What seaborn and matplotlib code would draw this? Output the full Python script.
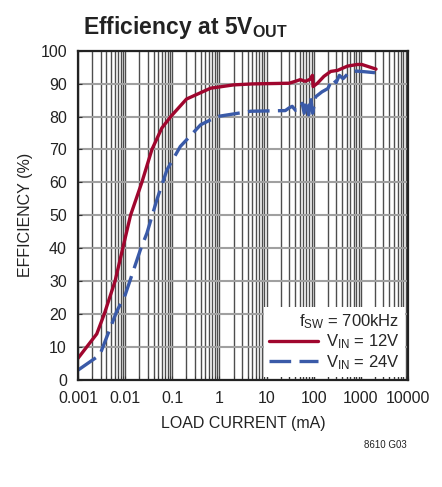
import numpy as np
import pandas as pd
import matplotlib
matplotlib.use("Agg")
import matplotlib.pyplot as plt
import seaborn as sns
from matplotlib.ticker import FixedLocator, LogLocator, NullFormatter, FixedFormatter

# load current (mA) and efficiency (%)
i_12v = [0.001, 0.0025, 0.0036, 0.0061, 0.0089, 0.013, 0.0226, 0.037, 0.06, 0.093,
         0.2, 0.65, 2.0, 5.0, 27, 30, 41, 52, 66, 84, 94, 97, 120, 165, 230, 320,
         520, 840, 1050, 2100]
eff_12v = [6.6, 14.0, 20.0, 30.0, 40.0, 50.0, 60.0, 70.0, 76.5, 80.0,
           85.3, 88.6, 89.6, 89.9, 90.1, 90.1, 90.7, 91.2, 90.7, 91.3, 92.5, 89.1, 90.1, 92.2, 93.7, 94.0,
           95.3, 95.8, 95.8, 94.4]

i_24v = [0.001, 0.0029, 0.0066, 0.01, 0.021, 0.029, 0.047, 0.077, 0.148, 0.40,
         0.9, 4.6, 25, 30, 35, 41, 50, 57, 63, 70, 78, 86, 95,
         110, 150, 200, 250, 300, 350, 420, 550, 800, 1200, 2000]
eff_24v = [3.0, 7.6, 20.8, 25.8, 39.5, 44.6, 54.7, 63.8, 70.9, 77.5,
           80.0, 81.6, 81.8, 82.6, 83.1, 81.9, 82.0, 84.0, 81.0, 85.0, 80.5, 86.0, 81.0,
           86.0, 87.5, 88.5, 91.5, 90.3, 92.5, 91.5, 93.2, 93.8, 93.6, 93.3]

series = ["$\\mathregular{V_{IN}}$ = 12V", "$\\mathregular{V_{IN}}$ = 24V"]
x_ticks = [0.001, 0.01, 0.1, 1, 10, 100, 1000, 10000]
x_labels = ["0.001", "0.01", "0.1", "1", "10", "100", "1000", "10000"]
y_ticks = list(range(0, 101, 10))

df = pd.concat([
    pd.DataFrame({"current": i_12v, "eff": eff_12v, "vin": series[0]}),
    pd.DataFrame({"current": i_24v, "eff": eff_24v, "vin": series[1]}),
])

sns.set_style("ticks")
plt.rcParams["font.family"] = ["Liberation Sans", "DejaVu Sans"]
plt.rcParams["mathtext.fontset"] = "custom"
plt.rcParams["mathtext.rm"] = "Liberation Sans"
plt.rcParams["mathtext.it"] = "Liberation Sans:italic"
plt.rcParams["mathtext.bf"] = "Liberation Sans:bold"

fig = plt.figure(figsize=(4.42, 4.87), dpi=100)
ax = fig.add_axes([0.1765, 0.2197, 0.7465, 0.6763])

sns.lineplot(data=df, x="current", y="eff", hue="vin", style="vin",
             palette={series[0]: "#a0062e", series[1]: "#3a5aa8"},
             dashes={series[0]: "", series[1]: (6.5, 2.5)},
             linewidth=2.4, sort=False, ax=ax)

ax.set_xscale("log")
ax.set_xlim(0.001, 10000)
ax.set_ylim(0, 100)
ax.xaxis.set_major_locator(FixedLocator(x_ticks))
ax.xaxis.set_major_formatter(FixedFormatter(x_labels))
ax.xaxis.set_minor_locator(LogLocator(base=10, subs=np.arange(2, 10), numticks=20))
ax.xaxis.set_minor_formatter(NullFormatter())
ax.set_yticks(y_ticks)

ax.grid(True, which="both", axis="x", color="#4d4d4d", linewidth=1.0)
ax.grid(True, which="major", axis="y", color="#a0a0a0", linewidth=1.5)
ax.set_axisbelow(True)
ax.tick_params(axis="both", which="both", direction="in", length=3, labelsize=11.5,
               color="#333333", labelcolor="#222222")
ax.tick_params(axis="x", pad=8)
ax.tick_params(axis="y", pad=8)
for s in ax.spines.values():
    s.set_linewidth(1.6)
    s.set_color("#222222")

ax.set_xlabel("LOAD CURRENT (mA)", fontsize=11.5, labelpad=7, color="#222222")
ax.set_ylabel("EFFICIENCY (%)", fontsize=11.5, labelpad=5, color="#222222")
ax.set_title("Efficiency at 5V$_{\\mathbf{OUT}}$", fontsize=16.5, fontweight="bold",
             loc="left", x=0.015, pad=12, color="#222222")

handles, labels = ax.get_legend_handles_labels()
leg = ax.legend(handles, labels, title="$\\mathregular{f_{SW}}$ = 700kHz", loc="lower right",
                fontsize=12, title_fontsize=12, frameon=True, framealpha=1.0,
                edgecolor="white", fancybox=False, handlelength=2.9,
                borderaxespad=0.2, labelspacing=0.1, handletextpad=0.5,
                alignment="right", borderpad=0.3)
leg.get_frame().set_linewidth(0)

fig.text(0.921, 0.08, "8610 G03", fontsize=7, ha="right", color="#222222")

fig.savefig("out.png", dpi=100)
